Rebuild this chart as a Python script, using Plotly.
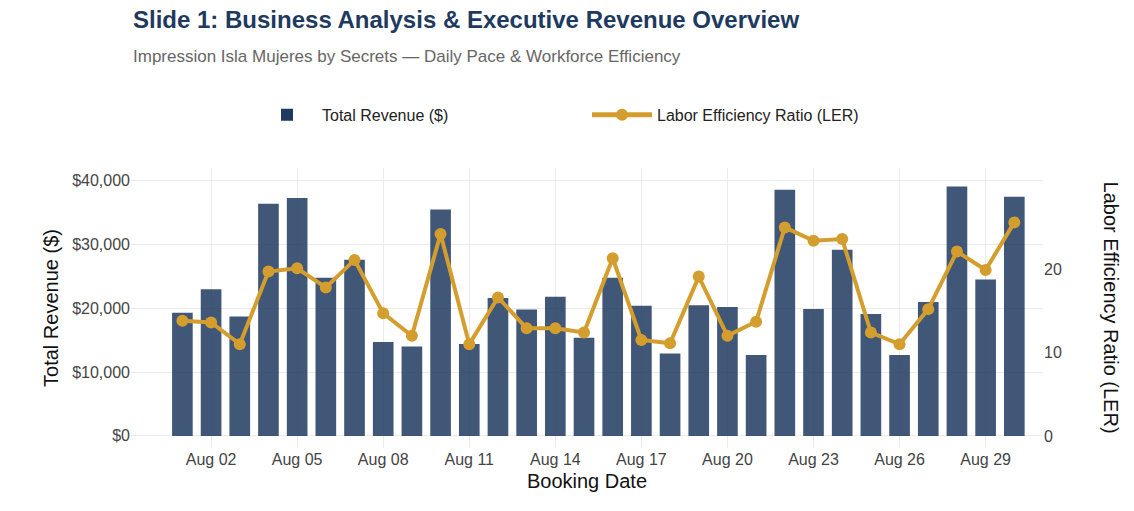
import plotly.graph_objects as go
import pandas as pd

dates = pd.date_range("2024-08-01", "2024-08-30", freq="D")
revenue = [19300, 23000, 18700, 36400, 37300, 24800, 27600, 14700, 14000, 35500,
           14400, 21600, 19800, 21800, 15400, 24800, 20400, 12900, 20500, 20200,
           12700, 38600, 19900, 29200, 19100, 12700, 21000, 39100, 24500, 37500]
ler = [13.8, 13.6, 11.0, 19.7, 20.1, 17.8, 21.1, 14.7, 12.0, 24.2,
       11.0, 16.6, 12.9, 12.9, 12.4, 21.3, 11.5, 11.1, 19.1, 12.0,
       13.7, 25.0, 23.4, 23.6, 12.4, 11.0, 15.2, 22.1, 19.9, 25.6]
tick_dates = pd.date_range("2024-08-02", "2024-08-29", freq="3D")
rev_ticks = [0, 10000, 20000, 30000, 40000]

fig = go.Figure()
fig.add_trace(go.Bar(x=dates, y=revenue, name="Total Revenue ($)",
                     marker=dict(color="#1f3a60", opacity=0.85, line=dict(width=0)),
                     width=0.72 * 86400000))
fig.add_trace(go.Scatter(x=dates, y=ler, name="Labor Efficiency Ratio (LER)", yaxis="y2",
                         mode="lines+markers", line=dict(color="#d49e2e", width=4),
                         marker=dict(size=12, color="#d49e2e")))

fig.add_annotation(text="<b>Slide 1: Business Analysis & Executive Revenue Overview</b>",
                   xref="paper", yref="paper", x=0, y=1.53, xanchor="left", yanchor="middle",
                   showarrow=False, font=dict(size=24, color="#1f3a5f"))
fig.add_annotation(text="Impression Isla Mujeres by Secrets — Daily Pace & Workforce Efficiency",
                   xref="paper", yref="paper", x=0, y=1.40, xanchor="left", yanchor="middle",
                   showarrow=False, font=dict(size=17, color="#666"))
fig.add_annotation(text="Labor Efficiency Ratio (LER)", textangle=90,
                   xref="paper", yref="paper", x=1.075, y=0.5, xanchor="center", yanchor="middle",
                   showarrow=False, font=dict(size=20, color="#111"))

fig.update_layout(
    width=1134, height=511,
    margin=dict(l=123, r=99, t=160, b=71, autoexpand=False),
    plot_bgcolor="white", paper_bgcolor="white",
    font=dict(family="Liberation Sans, Arial", color="#444", size=16),
    legend=dict(orientation="h", x=0.5, xanchor="center", y=1.19, yanchor="middle",
                font=dict(size=16, color="#222"), itemwidth=60, itemsizing="constant",
                entrywidth=260),
    xaxis=dict(title=dict(text="Booking Date", font=dict(size=20, color="#111"), standoff=6),
               range=["2024-07-30 05:00", "2024-08-31 00:00"],
               tickvals=tick_dates, tickformat="%b %d", automargin=False,
               showgrid=True, gridcolor="#ebebeb", ticks="", tickfont=dict(size=16)),
    yaxis=dict(title=dict(text="Total Revenue ($)", font=dict(size=20, color="#111"), standoff=8),
               range=[-1900, 42000], tickvals=rev_ticks,
               ticktext=[f"${v:,}" for v in rev_ticks], automargin=False,
               gridcolor="#ebebeb", zeroline=False, tickfont=dict(size=16)),
    yaxis2=dict(overlaying="y", side="right", range=[-1.45, 32.12], tickvals=[0, 10, 20],
                showgrid=False, zeroline=False, tickfont=dict(size=16), automargin=False),
)

fig.write_html("out.html")
